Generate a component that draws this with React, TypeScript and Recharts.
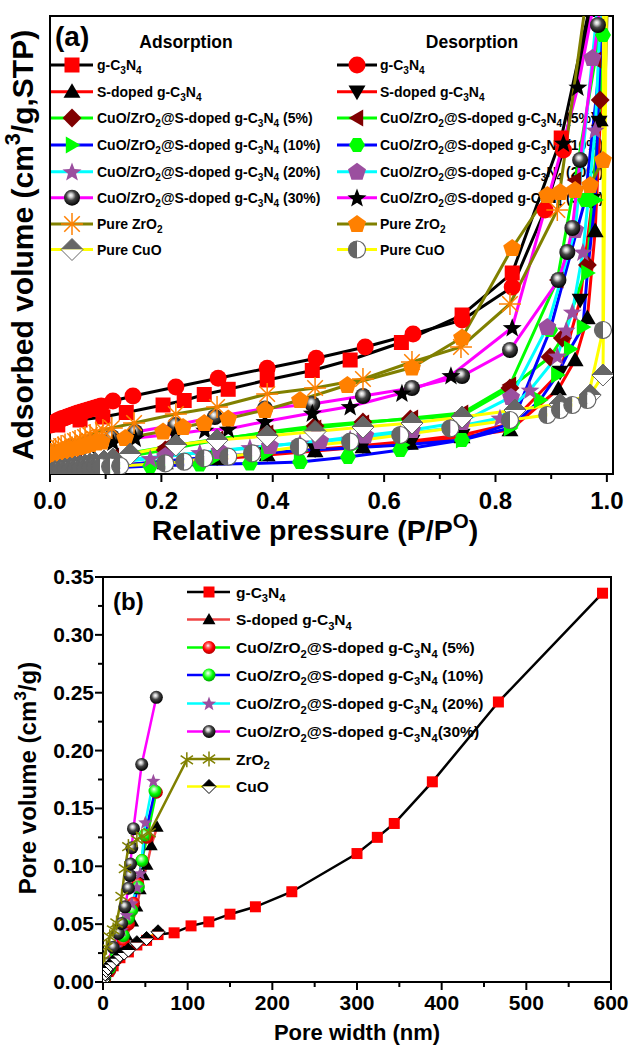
import React from "react";
import { LineChart, Line, XAxis, YAxis, ReferenceArea } from "recharts";

type Pt = [number, number];

const FONT = "'Liberation Sans', Arial, Helvetica, sans-serif";

// ---------- (a) N2 isotherms: x = P/P0, y = adsorbed volume (axis has no scale labels)
const gC3N4Ads: Pt[] = [[0.014, 49], [0.054, 54], [0.095, 57], [0.137, 61.5], [0.203, 69], [0.241, 73.5], [0.277, 79.5], [0.32, 84.7], [0.39, 94], [0.471, 103.5], [0.539, 114], [0.631, 131.5], [0.74, 159], [0.83, 201], [0.918, 336], [0.981, 497]];
const gC3N4Des: Pt[] = [[0.002, 49], [0.005, 50.5], [0.008, 51.5], [0.011, 52.5], [0.014, 53.5], [0.018, 54.5], [0.022, 55.5], [0.026, 56], [0.03, 57], [0.035, 58], [0.04, 59], [0.045, 60], [0.05, 61], [0.056, 62], [0.062, 63], [0.068, 64], [0.074, 65], [0.08, 66], [0.086, 67], [0.092, 68], [0.113, 73], [0.149, 78], [0.226, 87], [0.302, 95.7], [0.39, 105.7], [0.478, 115.7], [0.566, 127], [0.652, 140], [0.74, 154], [0.83, 187], [0.889, 264], [0.922, 324], [0.981, 494]];
const sDopedAds: Pt[] = [[0.004, 2], [0.018, 3], [0.054, 4.5], [0.113, 7], [0.207, 11], [0.3, 15], [0.39, 19], [0.476, 23], [0.562, 27], [0.647, 30.5], [0.74, 37], [0.826, 44], [0.913, 85], [0.943, 114], [0.965, 156], [0.979, 243], [0.988, 354], [0.997, 504]];
const sDopedDes: Pt[] = [[0.004, 3], [0.113, 8], [0.207, 12.5], [0.3, 16.5], [0.39, 20.5], [0.476, 24.5], [0.562, 28.5], [0.65, 33], [0.74, 39], [0.826, 50], [0.916, 102], [0.952, 174], [0.974, 274], [0.986, 352], [0.999, 504]];
const cz5Ads: Pt[] = [[0.004, 7], [0.054, 11], [0.113, 15], [0.207, 24], [0.3, 34], [0.39, 42], [0.476, 48], [0.562, 52], [0.647, 55], [0.74, 58.5], [0.826, 86], [0.898, 117], [0.92, 136], [0.965, 209], [0.988, 374], [0.999, 504]];
const cz5Des: Pt[] = [[0.004, 9], [0.113, 18], [0.207, 27], [0.3, 35], [0.39, 41], [0.476, 46], [0.562, 51], [0.65, 56], [0.74, 61], [0.826, 89], [0.911, 194], [0.943, 294], [0.979, 414], [0.999, 504]];
const cz10Ads: Pt[] = [[0.004, 2], [0.054, 5], [0.113, 8], [0.207, 13], [0.3, 17.5], [0.39, 21], [0.449, 23.5], [0.539, 26], [0.632, 29], [0.74, 34], [0.826, 46], [0.88, 74], [0.911, 99], [0.934, 125], [0.957, 147], [0.965, 201], [0.979, 274], [0.993, 504]];
const cz10Des: Pt[] = [[0.004, 2], [0.09, 5.5], [0.18, 8], [0.269, 9.5], [0.359, 10.5], [0.449, 12], [0.535, 17], [0.629, 24], [0.74, 34], [0.83, 51], [0.898, 144], [0.961, 274], [0.993, 439], [1.002, 504]];
const cz20Ads: Pt[] = [[0.004, 4], [0.054, 7], [0.113, 11], [0.18, 15.5], [0.269, 21.5], [0.359, 26.5], [0.449, 31], [0.539, 35], [0.629, 40], [0.719, 46], [0.808, 56], [0.862, 84], [0.911, 118], [0.927, 144], [0.938, 162], [0.957, 222], [0.979, 344], [0.993, 514]];
const cz20Des: Pt[] = [[0.004, 6], [0.113, 13], [0.207, 18], [0.305, 23], [0.395, 28], [0.485, 33], [0.566, 38.5], [0.65, 44], [0.74, 52], [0.828, 77], [0.893, 147], [0.943, 244], [0.974, 416], [0.988, 494]];
const cz30Ads: Pt[] = [[0.009, 22], [0.036, 27], [0.072, 32], [0.111, 37], [0.153, 42], [0.225, 49], [0.296, 57], [0.386, 65.5], [0.471, 70], [0.562, 78], [0.65, 86], [0.74, 98], [0.826, 124], [0.913, 194], [0.929, 222], [0.938, 246], [0.952, 314], [0.984, 449], [0.999, 534]];
const cz30Des: Pt[] = [[0.009, 19], [0.036, 24], [0.072, 28], [0.113, 32], [0.153, 36], [0.225, 40], [0.278, 44], [0.32, 45], [0.386, 52.5], [0.471, 61], [0.539, 67.5], [0.632, 81], [0.72, 98.5], [0.83, 146.5], [0.922, 331], [0.948, 387], [0.988, 504]];
const zrO2Ads: Pt[] = [[0.002, 20], [0.006, 23], [0.01, 25], [0.015, 26.5], [0.02, 28], [0.027, 29.5], [0.036, 31], [0.045, 33], [0.054, 35], [0.063, 37], [0.072, 39], [0.083, 41.5], [0.095, 44], [0.111, 46], [0.151, 51], [0.226, 60], [0.3, 67], [0.39, 80], [0.476, 86], [0.562, 95], [0.65, 112], [0.738, 127], [0.826, 170], [0.911, 264], [0.97, 504]];
const zrO2Des: Pt[] = [[0.002, 16], [0.006, 18], [0.01, 19], [0.015, 20.5], [0.02, 21.5], [0.027, 22.5], [0.036, 24], [0.045, 25.5], [0.054, 27], [0.063, 28.5], [0.072, 30], [0.083, 31.5], [0.093, 32.5], [0.135, 36], [0.203, 42.5], [0.239, 47], [0.277, 51], [0.32, 55.5], [0.386, 64], [0.449, 74], [0.534, 89], [0.65, 106.5], [0.74, 136.5], [0.83, 226], [0.893, 279], [0.916, 282], [0.943, 284], [0.97, 289], [0.993, 314], [1.002, 494]];
const cuOAds: Pt[] = [[0.004, 1], [0.009, 2.5], [0.018, 4], [0.027, 5], [0.036, 6], [0.045, 7], [0.054, 8], [0.063, 9], [0.072, 10], [0.081, 11], [0.097, 13], [0.113, 15], [0.144, 20], [0.226, 29], [0.3, 34], [0.39, 38], [0.476, 42.5], [0.562, 47], [0.65, 51], [0.74, 57], [0.835, 64], [0.916, 70], [0.97, 79], [0.993, 99], [1.0, 524]];
const cuODes: Pt[] = [[0.004, 2], [0.009, 2.5], [0.018, 3], [0.027, 3.5], [0.036, 4], [0.045, 4.5], [0.054, 5], [0.063, 5.5], [0.072, 6], [0.081, 6.5], [0.09, 7], [0.108, 7.5], [0.126, 8], [0.207, 10.7], [0.241, 12.3], [0.277, 15.7], [0.32, 17.3], [0.363, 20.7], [0.447, 27.3], [0.539, 32.3], [0.629, 39], [0.719, 45.7], [0.826, 54], [0.893, 59], [0.916, 64], [0.938, 69], [0.965, 74], [0.993, 144], [0.994, 524]];

const ticksAX = [0, 0.1, 0.2, 0.3, 0.4, 0.5, 0.6, 0.7, 0.8, 0.9, 1.0];

// ---------- (b) pore size distribution: x = pore width (nm), y = pore volume (cm3/g)
const gC3N4Pore: Pt[] = [[2.5, 0.005], [6, 0.009], [12, 0.014], [20, 0.021], [30, 0.026], [40, 0.032], [51.5, 0.036], [65, 0.041], [84, 0.0425], [104, 0.0485], [125, 0.052], [150, 0.0586], [180, 0.065], [223, 0.078], [300, 0.111], [324, 0.125], [344, 0.137], [389, 0.173], [467, 0.242], [590, 0.336]];
const sDopedPore: Pt[] = [[2, 0.004], [6, 0.01], [12, 0.018], [20, 0.028], [28, 0.04], [35, 0.052], [40, 0.065], [44, 0.08], [48, 0.092], [52, 0.101], [57, 0.118], [64, 0.134]];
const cz5Pore: Pt[] = [[2, 0.003], [8, 0.01], [16, 0.02], [24, 0.035], [30, 0.05], [36, 0.068], [41, 0.085], [46, 0.105], [52, 0.125], [63, 0.164]];
const cz10Pore: Pt[] = [[2, 0.004], [8, 0.012], [16, 0.024], [24, 0.04], [30, 0.055], [34, 0.062], [41.7, 0.082], [46, 0.105], [49.6, 0.127], [61.4, 0.165]];
const cz20Pore: Pt[] = [[2, 0.005], [8, 0.016], [15, 0.03], [22, 0.045], [28, 0.058], [34, 0.068], [40, 0.082], [44, 0.094], [50, 0.138], [59.5, 0.174]];
const cz30Pore: Pt[] = [[1, 0.005], [5, 0.016], [12, 0.03], [18, 0.042], [22, 0.0506], [26, 0.065], [30, 0.081], [32, 0.092], [32.5, 0.102], [34, 0.116], [36, 0.1325], [45.7, 0.188], [63, 0.246]];
const zrO2Pore: Pt[] = [[0.5, 0.019], [4, 0.03], [8, 0.039], [12, 0.045], [16, 0.051], [22, 0.074], [26, 0.098], [30, 0.117], [40, 0.123], [46, 0.126], [55, 0.129], [99, 0.192]];
const cuOPore: Pt[] = [[0.5, 0.002], [1.5, 0.005], [2.5, 0.007], [4, 0.01], [6, 0.012], [9, 0.015], [12, 0.017], [16, 0.02], [20, 0.023], [25, 0.025], [30, 0.0276], [40, 0.034], [51.5, 0.0376], [65, 0.0434]];

const ticksBX = [0, 50, 100, 150, 200, 250, 300, 350, 400, 450, 500, 550, 600];
const ticksBY = [0, 0.025, 0.05, 0.075, 0.1, 0.125, 0.15, 0.175, 0.2, 0.225, 0.25, 0.275, 0.3, 0.325, 0.35];

type Kind = "square" | "circle" | "triUp" | "triDown" | "triLeft" | "triRight" | "diamond" | "hex" | "pent" | "star" | "sphere" | "ast8" | "ast6" | "halfDiamond" | "halfCircle";

type Series = { label: string; data: Pt[]; line: string; kind: Kind; fill: string; s: number };

const LBL_CZ = "CuO/ZrO_2@S-doped g-C_3N_4";

// interleaved ads/des, same order as drawn
const seriesA: (Series & { col: number; row: number })[] = [
  { label: "g-C_3N_4", data: gC3N4Ads, line: "#000000", kind: "square", fill: "#ff0000", s: 15, col: 0, row: 0 },
  { label: "g-C_3N_4", data: gC3N4Des, line: "#000000", kind: "circle", fill: "#ff0000", s: 17, col: 1, row: 0 },
  { label: "S-doped g-C_3N_4", data: sDopedAds, line: "#ff0000", kind: "triUp", fill: "#000000", s: 17, col: 0, row: 1 },
  { label: "S-doped g-C_3N_4", data: sDopedDes, line: "#ff0000", kind: "triDown", fill: "#000000", s: 17, col: 1, row: 1 },
  { label: LBL_CZ + " (5%)", data: cz5Ads, line: "#00ff00", kind: "diamond", fill: "#800000", s: 18, col: 0, row: 2 },
  { label: LBL_CZ + " (5%)", data: cz5Des, line: "#00ff00", kind: "triLeft", fill: "#800000", s: 17, col: 1, row: 2 },
  { label: LBL_CZ + " (10%)", data: cz10Ads, line: "#0000ff", kind: "triRight", fill: "#00ff00", s: 17, col: 0, row: 3 },
  { label: LBL_CZ + " (10%)", data: cz10Des, line: "#0000ff", kind: "hex", fill: "#00ff00", s: 16, col: 1, row: 3 },
  { label: LBL_CZ + " (20%)", data: cz20Ads, line: "#00ffff", kind: "star", fill: "#9b4f9f", s: 20, col: 0, row: 4 },
  { label: LBL_CZ + " (20%)", data: cz20Des, line: "#00ffff", kind: "pent", fill: "#9b4f9f", s: 18, col: 1, row: 4 },
  { label: LBL_CZ + " (30%)", data: cz30Ads, line: "#ff00ff", kind: "sphere", fill: "url(#sphK)", s: 16, col: 0, row: 5 },
  { label: LBL_CZ + " (30%)", data: cz30Des, line: "#ff00ff", kind: "star", fill: "#000000", s: 20, col: 1, row: 5 },
  { label: "Pure ZrO_2", data: zrO2Ads, line: "#808000", kind: "ast8", fill: "#ff8000", s: 22, col: 0, row: 6 },
  { label: "Pure ZrO_2", data: zrO2Des, line: "#808000", kind: "pent", fill: "#ff8000", s: 18, col: 1, row: 6 },
  { label: "Pure CuO", data: cuOAds, line: "#ffff00", kind: "halfDiamond", fill: "#666666", s: 22, col: 0, row: 7 },
  { label: "Pure CuO", data: cuODes, line: "#ffff00", kind: "halfCircle", fill: "#666666", s: 17, col: 1, row: 7 },
];

const seriesB: Series[] = [
  { label: "g-C_3N_4", data: gC3N4Pore, line: "#000000", kind: "square", fill: "#ff0000", s: 11 },
  { label: "S-doped g-C_3N_4", data: sDopedPore, line: "#f04444", kind: "triUp", fill: "#000000", s: 13 },
  { label: LBL_CZ + " (5%)", data: cz5Pore, line: "#00ff00", kind: "sphere", fill: "url(#sphR)", s: 13 },
  { label: LBL_CZ + " (10%)", data: cz10Pore, line: "#0000ff", kind: "sphere", fill: "url(#sphG)", s: 13 },
  { label: LBL_CZ + " (20%)", data: cz20Pore, line: "#00ffff", kind: "star", fill: "#9b4f9f", s: 15 },
  { label: LBL_CZ + "(30%)", data: cz30Pore, line: "#ff00ff", kind: "sphere", fill: "url(#sphK)", s: 13 },
  { label: "ZrO_2", data: zrO2Pore, line: "#808000", kind: "ast6", fill: "#808000", s: 15 },
  { label: "CuO", data: cuOPore, line: "#ffff00", kind: "halfDiamond", fill: "#000000", s: 14 },
];

function pts(cx: number, cy: number, r: number, angles: number[]) {
  return angles
    .map((a) => {
      const t = (a * Math.PI) / 180;
      return `${(cx + r * Math.cos(t)).toFixed(2)},${(cy + r * Math.sin(t)).toFixed(2)}`;
    })
    .join(" ");
}

function Marker({ kind, cx, cy, s, fill }: { kind: Kind; cx: number; cy: number; s: number; fill: string }) {
  const r = s / 2;
  switch (kind) {
    case "square":
      return <rect x={cx - r} y={cy - r} width={s} height={s} fill={fill} />;
    case "circle":
      return <circle cx={cx} cy={cy} r={r} fill={fill} />;
    case "triUp":
      return <polygon points={pts(cx, cy + r * 0.15, r * 1.15, [-90, 30, 150])} fill={fill} />;
    case "triDown":
      return <polygon points={pts(cx, cy - r * 0.15, r * 1.15, [90, 210, 330])} fill={fill} />;
    case "triLeft":
      return <polygon points={pts(cx + r * 0.15, cy, r * 1.15, [180, 300, 60])} fill={fill} />;
    case "triRight":
      return <polygon points={pts(cx - r * 0.15, cy, r * 1.15, [0, 120, 240])} fill={fill} />;
    case "diamond":
      return <polygon points={pts(cx, cy, r * 1.05, [0, 90, 180, 270])} fill={fill} />;
    case "hex":
      return <polygon points={pts(cx, cy, r, [0, 60, 120, 180, 240, 300])} fill={fill} />;
    case "pent":
      return <polygon points={pts(cx, cy + r * 0.05, r * 1.05, [-90, -18, 54, 126, 198])} fill={fill} />;
    case "star": {
      const ang: number[] = [];
      const rad: number[] = [];
      for (let k = 0; k < 10; k++) {
        ang.push(-90 + k * 36);
        rad.push(k % 2 === 0 ? r : r * 0.42);
      }
      const p = ang
        .map((a, k) => {
          const t = (a * Math.PI) / 180;
          return `${(cx + rad[k] * Math.cos(t)).toFixed(2)},${(cy + r * 0.08 + rad[k] * Math.sin(t)).toFixed(2)}`;
        })
        .join(" ");
      return <polygon points={p} fill={fill} />;
    }
    case "sphere":
      return <circle cx={cx} cy={cy} r={r} fill={fill} />;
    case "ast8":
    case "ast6": {
      const angs = kind === "ast8" ? [0, 45, 90, 135] : [90, 35, 145];
      return (
        <g stroke={fill} strokeWidth={1.5}>
          {angs.map((a) => {
            const t = (a * Math.PI) / 180;
            return <line key={a} x1={cx - r * Math.cos(t)} y1={cy - r * Math.sin(t)} x2={cx + r * Math.cos(t)} y2={cy + r * Math.sin(t)} />;
          })}
        </g>
      );
    }
    case "halfDiamond":
      return (
        <g>
          <polygon points={`${cx - r},${cy} ${cx},${cy - r} ${cx + r},${cy}`} fill={fill} />
          <polygon points={`${cx - r},${cy} ${cx},${cy + r} ${cx + r},${cy}`} fill="#ffffff" />
          <polygon points={pts(cx, cy, r, [0, 90, 180, 270])} fill="none" stroke={fill} strokeWidth={1} />
        </g>
      );
    case "halfCircle":
      return (
        <g>
          <path d={`M${cx},${cy - r} A${r},${r} 0 0 0 ${cx},${cy + r} Z`} fill={fill} />
          <path d={`M${cx},${cy - r} A${r},${r} 0 0 1 ${cx},${cy + r} Z`} fill="#ffffff" />
          <circle cx={cx} cy={cy} r={r} fill="none" stroke={fill} strokeWidth={1.2} />
        </g>
      );
  }
  return null;
}

const dotFor = (s: Series) => (props: any) => {
  const { cx, cy, index } = props;
  if (cx == null || cy == null) return <g key={`d${index}`} />;
  return (
    <g key={`d${index}`}>
      <Marker kind={s.kind} cx={cx} cy={cy} s={s.s} fill={s.fill} />
    </g>
  );
};

const toXY = (d: Pt[]) => d.map(([x, y]) => ({ x, y }));

// text with _x subscripts and ^x superscripts
function Rich({ x, y, text, size, anchor = "start", transform }: { x: number; y: number; text: string; size: number; anchor?: string; transform?: string }) {
  const segs: { t: string; m: number }[] = [];
  let i = 0;
  while (i < text.length) {
    const c = text[i];
    if ((c === "_" || c === "^") && i + 1 < text.length) {
      segs.push({ t: text[i + 1], m: c === "_" ? 1 : -1 });
      i += 2;
    } else {
      const last = segs[segs.length - 1];
      if (last && last.m === 0) last.t += c;
      else segs.push({ t: c, m: 0 });
      i++;
    }
  }
  let cur = 0;
  return (
    <text x={x} y={y} fontSize={size} textAnchor={anchor as any} transform={transform} fontWeight="bold" fontFamily={FONT} fill="#000">
      {segs.map((sg, k) => {
        const target = sg.m === 1 ? size * 0.3 : sg.m === -1 ? -size * 0.42 : 0;
        const dy = target - cur;
        cur = target;
        return (
          <tspan key={k} dy={dy} fontSize={sg.m ? size * 0.72 : size}>
            {sg.t}
          </tspan>
        );
      })}
    </text>
  );
}

const TickAX = (props: any) => {
  const { x, y, payload } = props;
  const v = payload.value as number;
  const major = Math.round(v * 10) % 2 === 0;
  return (
    <g>
      <line x1={x} x2={x} y1={y} y2={y + (major ? 8 : 5)} stroke="#000" strokeWidth={2} />
      {major && (
        <text x={x} y={y + 35} textAnchor="middle" fontSize={24} fontWeight="bold" fontFamily={FONT} fill="#000">
          {v.toFixed(1)}
        </text>
      )}
    </g>
  );
};

const TickBX = (props: any) => {
  const { x, y, payload } = props;
  const v = payload.value as number;
  const major = v % 100 === 0;
  return (
    <g>
      <line x1={x} x2={x} y1={y} y2={y + (major ? 8 : 5)} stroke="#000" strokeWidth={2} />
      {major && (
        <text x={x} y={y + 28} textAnchor="middle" fontSize={21} fontWeight="bold" fontFamily={FONT} fill="#000">
          {String(v)}
        </text>
      )}
    </g>
  );
};

const TickBY = (props: any) => {
  const { x, y, payload } = props;
  const v = payload.value as number;
  const major = Math.round(v * 1000) % 50 === 0;
  return (
    <g>
      <line x1={x} x2={x - (major ? 8 : 5)} y1={y} y2={y} stroke="#000" strokeWidth={2} />
      {major && (
        <text x={x - 9} y={y + 7} textAnchor="end" fontSize={21} fontWeight="bold" fontFamily={FONT} fill="#000">
          {v.toFixed(2)}
        </text>
      )}
    </g>
  );
};

const rowsA = [65, 91.7, 118, 145, 171.7, 197.7, 224, 249.5];
const colsA = [
  { x1: 51, x2: 93, mx: 72, tx: 97 },
  { x1: 337, x2: 377, mx: 357, tx: 380 },
];
const rowsB = [592, 619.5, 647.5, 675, 703.5, 731.5, 759, 786.5];

function Overlay() {
  return (
    <svg width={630} height={1046} style={{ position: "absolute", left: 0, top: 0 }}>
      <defs>
        <radialGradient id="sphK" cx="0.45" cy="0.4" r="0.6" fx="0.42" fy="0.35">
          <stop offset="0" stopColor="#ffffff" />
          <stop offset="0.2" stopColor="#cfcfcf" />
          <stop offset="0.5" stopColor="#444444" />
          <stop offset="1" stopColor="#000000" />
        </radialGradient>
        <radialGradient id="sphR" cx="0.45" cy="0.4" r="0.6" fx="0.42" fy="0.35">
          <stop offset="0" stopColor="#ffffff" />
          <stop offset="0.25" stopColor="#ff7070" />
          <stop offset="0.6" stopColor="#ff0000" />
          <stop offset="1" stopColor="#b00000" />
        </radialGradient>
        <radialGradient id="sphG" cx="0.45" cy="0.4" r="0.6" fx="0.42" fy="0.35">
          <stop offset="0" stopColor="#ffffff" />
          <stop offset="0.25" stopColor="#90ff90" />
          <stop offset="0.6" stopColor="#00ff00" />
          <stop offset="1" stopColor="#00a000" />
        </radialGradient>
      </defs>

      {/* panel (a) texts */}
      <Rich x={55} y={46} text="(a)" size={28} />
      <Rich x={186} y={48} text="Adsorption" size={17.5} anchor="middle" />
      <Rich x={472} y={48} text="Desorption" size={17.5} anchor="middle" />
      {seriesA.map((s, k) => {
        const c = colsA[s.col];
        const y = rowsA[s.row];
        return (
          <g key={k}>
            <line x1={c.x1} x2={c.x2} y1={y} y2={y} stroke={s.line} strokeWidth={3} />
            <Marker kind={s.kind} cx={c.mx} cy={y} s={s.s} fill={s.fill} />
            <Rich x={c.tx} y={y + 5} text={s.label} size={14} />
          </g>
        );
      })}
      <Rich x={0} y={0} text="Adsorbed volume (cm^3/g,STP)" size={30} anchor="middle" transform="translate(33,245) rotate(-90)" />
      <Rich x={315} y={540} text="Relative pressure (P/P^O)" size={28.5} anchor="middle" />

      {/* panel (b) texts */}
      <Rich x={113} y={610} text="(b)" size={24} />
      {seriesB.map((s, k) => {
        const y = rowsB[k];
        return (
          <g key={k}>
            <line x1={187} x2={230} y1={y} y2={y} stroke={s.line} strokeWidth={2.5} />
            <Marker kind={s.kind} cx={209} cy={y} s={s.s} fill={s.fill} />
            <Rich x={236} y={y + 5.5} text={s.label} size={15.5} />
          </g>
        );
      })}
      <Rich x={0} y={0} text="Pore volume (cm^3/g)" size={24} anchor="middle" transform="translate(36,778) rotate(-90)" />
      <Rich x={357} y={1040} text="Pore width (nm)" size={22} anchor="middle" />
    </svg>
  );
}

function PanelA() {
  return (
    <LineChart width={630} height={540} margin={{ top: 16, right: 17, bottom: 0, left: 50 }}>
      <XAxis dataKey="x" type="number" domain={[0, 1.011]} ticks={ticksAX} interval={0} allowDataOverflow height={66} tickSize={0} tickMargin={0} axisLine={false} tickLine={false} tick={TickAX} />
      <YAxis type="number" domain={[0, 458]} allowDataOverflow hide />
      <ReferenceArea x1={0} x2={1.011} y1={0} y2={458} fill="none" fillOpacity={0} stroke="#000" strokeWidth={2} ifOverflow="visible" />
      {seriesA.map((s, k) => (
        <Line key={k} data={toXY(s.data)} dataKey="y" type="linear" stroke={s.line} strokeWidth={3} dot={dotFor(s)} activeDot={false} legendType="none" isAnimationActive={false} />
      ))}
    </LineChart>
  );
}

function PanelB() {
  return (
    <LineChart width={630} height={506} margin={{ top: 37, right: 19, bottom: 0, left: 0 }}>
      <XAxis dataKey="x" type="number" domain={[0, 600]} ticks={ticksBX} interval={0} allowDataOverflow height={64} tickSize={0} tickMargin={0} axisLine={false} tickLine={false} tick={TickBX} />
      <YAxis type="number" domain={[0, 0.35]} ticks={ticksBY} interval={0} allowDataOverflow width={103} tickSize={0} tickMargin={0} axisLine={false} tickLine={false} tick={TickBY} />
      <ReferenceArea x1={0} x2={600} y1={0} y2={0.35} fill="none" fillOpacity={0} stroke="#000" strokeWidth={2} ifOverflow="visible" />
      {seriesB.map((s, k) => (
        <Line key={k} data={toXY(s.data)} dataKey="y" type="linear" stroke={s.line} strokeWidth={2.5} dot={dotFor(s)} activeDot={false} legendType="none" isAnimationActive={false} />
      ))}
    </LineChart>
  );
}

export default function App() {
  return (
    <div style={{ position: "absolute", left: 0, top: 0, width: 630, height: 1046, background: "#fff", overflow: "hidden" }}>
      <Overlay />
      <div style={{ position: "absolute", left: 0, top: 0 }}>
        <PanelA />
      </div>
      <div style={{ position: "absolute", left: 0, top: 540 }}>
        <PanelB />
      </div>
    </div>
  );
}
